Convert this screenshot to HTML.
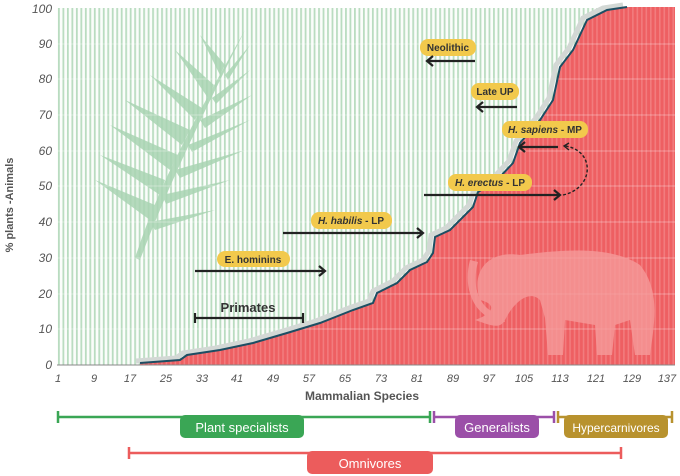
<!DOCTYPE html>
<html><head><meta charset="utf-8"><style>
body{margin:0;background:#fff;}
svg{display:block;font-family:"Liberation Sans",sans-serif;}
</style></head><body>
<svg width="680" height="476" viewBox="0 0 680 476">
<defs>
<pattern id="g" x="57" y="0" width="4.485" height="10" patternUnits="userSpaceOnUse">
<rect width="4.485" height="10" fill="#fbfdfb"/><rect x="1" width="1.8" height="10" fill="#b9dcc0"/></pattern>
<pattern id="r" x="57" y="0" width="4.485" height="10" patternUnits="userSpaceOnUse">
<rect width="4.485" height="10" fill="#ee5f62"/><rect x="1" width="1.6" height="10" fill="#f27c7e"/></pattern>
</defs>
<rect x="57" y="8" width="618" height="357" fill="url(#g)"/>
<!-- leaf -->
<g fill="#a9d4b3" opacity="0.85">
<path d="M135 258 C160 180 200 110 245 30 C210 100 170 180 140 260Z"/>
<path d="M150 220 L95 180 L155 205Z M160 195 L100 155 L165 180Z M170 170 L110 125 L178 155Z M182 145 L125 100 L190 130Z M195 120 L150 75 L202 108Z M208 98 L175 50 L214 85Z M220 75 L200 35 L225 65Z"/>
<path d="M150 222 L215 210 L155 230Z M162 195 L230 180 L166 204Z M175 170 L245 150 L180 178Z M188 145 L250 120 L192 152Z M200 120 L252 95 L205 128Z M212 98 L250 70 L216 104Z M225 75 L250 45 L228 80Z"/>
</g>
<!-- red area -->
<path d="M140 365 L140 363 L180 360 L187 355 L220 350 L253 343 L287 333 L320 323 L353 310 L373 303 L377 293 L397 283 L410 270 L427 262 L433 253 L435 237 L450 230 L473 207 L478 192 L497 180 L513 163 L520 143 L540 120 L553 100 L560 67 L573 50 L587 20 L607 10 L627 7 L675 7 L675 365 Z" fill="url(#r)"/>
<!-- grid -->
<g stroke="#ffffff" stroke-opacity="0.35" stroke-width="1">
<line x1="57" x2="675" y1="44" y2="44"/><line x1="57" x2="675" y1="79" y2="79"/><line x1="57" x2="675" y1="115" y2="115"/><line x1="57" x2="675" y1="151" y2="151"/><line x1="57" x2="675" y1="186" y2="186"/><line x1="57" x2="675" y1="222" y2="222"/><line x1="57" x2="675" y1="258" y2="258"/><line x1="57" x2="675" y1="294" y2="294"/><line x1="57" x2="675" y1="329" y2="329"/>
</g>
<!-- mammoth -->
<g fill="#f59a9a" opacity="0.8">
<path d="M480 300 C470 270 490 250 520 255 C560 250 610 245 640 265 C660 290 655 320 650 355 L635 355 L630 320 L615 325 L612 355 L597 355 L595 325 L565 320 L563 355 L548 355 L545 318 L540 300 C530 290 515 300 505 320 C500 330 490 325 475 320 C490 315 500 305 480 300Z"/>
<path d="M470 260 C462 290 475 320 505 322 L503 316 C482 312 470 290 478 262Z" />
</g>
<!-- curve line -->
<polyline points="140,363 180,360 187,355 220,350 253,343 287,333 320,323 353,310 373,303 377,293 397,283 410,270 427,262 433,253 435,237 450,230 473,207 478,192 497,180 513,163 520,143 540,120 553,100 560,67 573,50 587,20 607,10 627,7" fill="none" stroke="#d3d8d5" stroke-width="5" transform="translate(-4,-2)"/>
<polyline points="140,363 180,360 187,355 220,350 253,343 287,333 320,323 353,310 373,303 377,293 397,283 410,270 427,262 433,253 435,237 450,230 473,207 478,192 497,180 513,163 520,143 540,120 553,100 560,67 573,50 587,20 607,10 627,7" fill="none" stroke="#1d4e63" stroke-width="2"/>
<line x1="57" x2="675" y1="365" y2="365" stroke="#888" stroke-width="1"/>
<!-- y labels -->
<g font-size="12" font-style="italic" fill="#555" text-anchor="end">
<text x="52" y="13">100</text><text x="52" y="48">90</text><text x="52" y="83">80</text><text x="52" y="119">70</text><text x="52" y="155">60</text><text x="52" y="190">50</text><text x="52" y="226">40</text><text x="52" y="262">30</text><text x="52" y="298">20</text><text x="52" y="333">10</text><text x="52" y="369">0</text>
</g>
<text transform="translate(13,205) rotate(-90)" font-size="11" font-weight="bold" fill="#555" text-anchor="middle">% plants -Animals</text>
<!-- x labels -->
<g font-size="11" font-style="italic" fill="#555" text-anchor="middle">
<text x="58" y="382">1</text><text x="94" y="382">9</text><text x="130" y="382">17</text><text x="166" y="382">25</text><text x="202" y="382">33</text><text x="237" y="382">41</text><text x="273" y="382">49</text><text x="309" y="382">57</text><text x="345" y="382">65</text><text x="381" y="382">73</text><text x="417" y="382">81</text><text x="453" y="382">89</text><text x="489" y="382">97</text><text x="524" y="382">105</text><text x="560" y="382">113</text><text x="596" y="382">121</text><text x="632" y="382">129</text><text x="667" y="382">137</text>
</g>
<text x="362" y="400" font-size="12" font-weight="bold" fill="#555" text-anchor="middle">Mammalian Species</text>
<!-- annotations -->
<g font-size="10" font-weight="bold" fill="#333" text-anchor="middle">
<rect x="420" y="39" width="56" height="17" rx="8" fill="#f2c94c"/><text x="448" y="51">Neolithic</text>
<rect x="471" y="83" width="48" height="17" rx="8" fill="#f2c94c"/><text x="495" y="95">Late UP</text>
<rect x="502" y="121" width="86" height="17" rx="8" fill="#f2c94c"/><text x="545" y="133"><tspan font-style="italic">H. sapiens</tspan> - MP</text>
<rect x="448" y="174" width="84" height="17" rx="8" fill="#f2c94c"/><text x="490" y="186"><tspan font-style="italic">H. erectus</tspan> - LP</text>
<rect x="311" y="212" width="81" height="17" rx="8" fill="#f2c94c"/><text x="351" y="224"><tspan font-style="italic">H. habilis</tspan> - LP</text>
<rect x="217" y="251" width="73" height="16" rx="8" fill="#f2c94c"/><text x="253" y="263">E. hominins</text>
<text x="248" y="312" font-size="13">Primates</text>
</g>
<g stroke="#222" stroke-width="2.2" fill="none">
<line x1="475" y1="61" x2="428" y2="61"/><polyline points="433,56 427,61 433,66"/>
<line x1="517" y1="107" x2="478" y2="107"/><polyline points="483,102 477,107 483,112"/>
<line x1="558" y1="147" x2="520" y2="147"/><polyline points="525,142 519,147 525,152"/>
<line x1="424" y1="195" x2="559" y2="195"/><polyline points="554,190 560,195 554,200"/>
<line x1="283" y1="233" x2="422" y2="233"/><polyline points="417,228 423,233 417,238"/>
<line x1="195" y1="271" x2="324" y2="271"/><polyline points="319,266 325,271 319,276"/>
<line x1="195" y1="318" x2="303" y2="318"/><line x1="195" y1="313" x2="195" y2="323"/><line x1="303" y1="313" x2="303" y2="323"/>
<path d="M563 195 C595 188 595 150 565 146" stroke-width="1.4" stroke-dasharray="3,2"/>
<polyline points="569,143 564,146 569,150" stroke-width="1.4"/>
</g>
<!-- category bars -->
<g stroke-width="2.5">
<line x1="58" y1="417" x2="430" y2="417" stroke="#3aa655"/><line x1="58" y1="411" x2="58" y2="423" stroke="#3aa655"/><line x1="430" y1="411" x2="430" y2="423" stroke="#3aa655"/>
<line x1="434" y1="417" x2="554" y2="417" stroke="#9b4fa8"/><line x1="434" y1="411" x2="434" y2="423" stroke="#9b4fa8"/><line x1="554" y1="411" x2="554" y2="423" stroke="#9b4fa8"/>
<line x1="558" y1="417" x2="672" y2="417" stroke="#b8922e"/><line x1="558" y1="411" x2="558" y2="423" stroke="#b8922e"/><line x1="672" y1="411" x2="672" y2="423" stroke="#b8922e"/>
<line x1="129" y1="453" x2="621" y2="453" stroke="#ec5c5c"/><line x1="129" y1="447" x2="129" y2="459" stroke="#ec5c5c"/><line x1="621" y1="447" x2="621" y2="459" stroke="#ec5c5c"/>
</g>
<g font-size="13" fill="#fff" text-anchor="middle">
<rect x="180" y="415" width="124" height="23" rx="5" fill="#3aa655"/><text x="242" y="432">Plant specialists</text>
<rect x="455" y="415" width="84" height="23" rx="5" fill="#9b4fa8"/><text x="497" y="432">Generalists</text>
<rect x="564" y="415" width="104" height="23" rx="5" fill="#b8922e"/><text x="616" y="432" font-size="12">Hypercarnivores</text>
<rect x="307" y="451" width="126" height="23" rx="5" fill="#ec5c5c"/><text x="370" y="468">Omnivores</text>
</g>
</svg>
</body></html>
